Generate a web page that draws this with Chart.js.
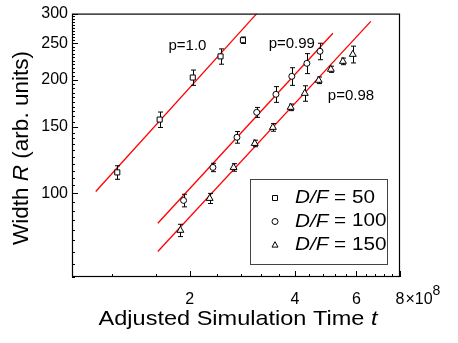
<!DOCTYPE html>
<html lang="en">
<head>
<meta charset="UTF-8">
<title>Width vs adjusted simulation time</title>
<style>
	body { margin: 0; background: white; }
	#wrap { width: 458px; height: 343px; }
</style>
<script src="https://cdn.jsdelivr.net/npm/chart.js"></script>
</head>
<body>
<div id="wrap"><canvas id="chart" width="458" height="343"></canvas></div>
<script>
	// time is in units of 1e8, width in arb. units
	const timeD50 = [1.24, 1.64, 2.04, 2.45, 2.84];
	const widthD50 = [113.7, 157, 203, 231, 255];
	const errD50 = [4.7, 7.4, 9.5, 10.8, 5];

	const timeD100 = [1.92, 2.33, 2.73, 3.11, 3.53, 3.92, 4.33, 4.72];
	const widthD100 = [95.8, 117.2, 140.9, 164.1, 183.2, 204.5, 221.4, 238.3];
	const errD100 = [3.7, 3, 5, 5, 8.8, 11, 13.5, 12];

	const timeD150 = [1.88, 2.28, 2.67, 3.07, 3.46, 3.89, 4.27, 4.68, 5.07, 5.49, 5.86];
	const widthD150 = [79.8, 97, 117.2, 135.7, 149.7, 169.2, 184.3, 199.6, 213.5, 224.1, 233.9];
	const errD150 = [3, 3, 2.7, 2.7, 3.5, 3.4, 8.7, 4, 4, 4.5, 12];

	// power law fits, start and end points
	const fitTime = [[1.076, 3.11], [1.62, 5.14], [1.62, 6.60]];
	const fitWidth = [[101.2, 300], [83.3, 266], [70.1, 286]];

	const fitLabels = ['p=1.0', 'p=0.99', 'p=0.98'];
	const fitLabelTime = [1.97, 3.92, 5.79];
	const fitLabelWidth = [247, 250, 181];

	const seriesNames = ['50', '100', '150'];

	const xTicks = [2, 4, 6, 8];
	const xMinor = [1.2, 1.6, 2.4, 2.8, 3.2, 3.6, 4.4, 4.8, 5.2, 5.6, 6.4, 6.8, 7.2, 7.6];
	const yTicks = [100, 150, 200, 250, 300];
	const yMinor = [];
	for (let v = 60; v < 300; v += 5) {
		if (v % 50 !== 0) yMinor.push(v);
	}

	const FONT = '"Liberation Sans", Arial, Helvetica, sans-serif';
	const errs = [errD50, errD100, errD150];
	const styles = ['rect', 'circle', 'triangle'];

	function pts(xs, ys) {
		return xs.map((x, i) => ({ x: x, y: ys[i] }));
	}

	function markerSet(xs, ys, style, r) {
		return {
			data: pts(xs, ys),
			showLine: false,
			pointStyle: style,
			pointRadius: r,
			pointBorderWidth: 1,
			borderColor: '#000',
			backgroundColor: '#fff',
			order: 1
		};
	}

	function fitSet(i) {
		return {
			data: pts(fitTime[i], fitWidth[i]),
			showLine: true,
			borderColor: '#ff0000',
			borderWidth: 1.3,
			pointRadius: 0,
			order: 2
		};
	}

	// text made of normal and italic pieces, optionally stretched sideways
	function drawParts(ctx, parts, x, y, size, sx, align, rot) {
		ctx.save();
		ctx.translate(x, y);
		if (rot) ctx.rotate(rot);
		ctx.scale(sx, 1);
		ctx.fillStyle = '#000';
		ctx.textBaseline = 'middle';
		ctx.textAlign = 'left';
		let w = 0;
		parts.forEach(p => {
			ctx.font = (p[1] ? 'italic ' : '') + size + 'px ' + FONT;
			w += ctx.measureText(p[0]).width;
		});
		let cx = align === 'center' ? -w / 2 : 0;
		parts.forEach(p => {
			ctx.font = (p[1] ? 'italic ' : '') + size + 'px ' + FONT;
			ctx.fillText(p[0], cx, 0);
			cx += ctx.measureText(p[0]).width;
		});
		ctx.restore();
	}

	function marker(ctx, style, x, y, r) {
		ctx.beginPath();
		if (style === 'rect') {
			ctx.rect(x - r, y - r, 2 * r, 2 * r);
		} else if (style === 'circle') {
			ctx.arc(x, y, r, 0, Math.PI * 2);
		} else {
			ctx.moveTo(x, y - r * 1.1);
			ctx.lineTo(x + r, y + r * 0.7);
			ctx.lineTo(x - r, y + r * 0.7);
			ctx.closePath();
		}
		ctx.stroke();
	}

	const decor = {
		id: 'decor',
		beforeDatasetDraw(chart, args) {
			const e = errs[args.index];
			if (!e) return;
			const ctx = chart.ctx;
			const xs = chart.scales.x, ys = chart.scales.y;
			ctx.save();
			ctx.strokeStyle = '#000';
			ctx.lineWidth = 1;
			ctx.beginPath();
			chart.data.datasets[args.index].data.forEach((p, i) => {
				const px = Math.round(xs.getPixelForValue(p.x)) + 0.5;
				const top = ys.getPixelForValue(p.y + e[i]);
				const bot = ys.getPixelForValue(p.y - e[i]);
				ctx.moveTo(px, top); ctx.lineTo(px, bot);
				ctx.moveTo(px - 2.5, top); ctx.lineTo(px + 2.5, top);
				ctx.moveTo(px - 2.5, bot); ctx.lineTo(px + 2.5, bot);
			});
			ctx.stroke();
			ctx.restore();
		},
		afterDraw(chart) {
			const ctx = chart.ctx;
			const a = chart.chartArea;
			const xs = chart.scales.x, ys = chart.scales.y;
			ctx.save();
			ctx.strokeStyle = '#000';
			ctx.lineWidth = 1.2;
			ctx.strokeRect(a.left + 0.5, a.top + 0.5, a.right - a.left - 1, a.bottom - a.top - 1);

			// inward ticks
			ctx.lineWidth = 1;
			ctx.beginPath();
			xTicks.forEach(v => {
				const p = Math.round(xs.getPixelForValue(v)) + 0.5;
				ctx.moveTo(p, a.bottom); ctx.lineTo(p, a.bottom - 6);
			});
			xMinor.forEach(v => {
				const p = Math.round(xs.getPixelForValue(v)) + 0.5;
				ctx.moveTo(p, a.bottom); ctx.lineTo(p, a.bottom - 3);
			});
			yTicks.forEach(v => {
				const p = Math.round(ys.getPixelForValue(v)) + 0.5;
				ctx.moveTo(a.left, p); ctx.lineTo(a.left + 6, p);
			});
			yMinor.forEach(v => {
				const p = Math.round(ys.getPixelForValue(v)) + 0.5;
				ctx.moveTo(a.left, p); ctx.lineTo(a.left + 3, p);
			});
			ctx.stroke();

			// exponent after the last tick label
			ctx.font = '16px ' + FONT;
			const x8 = xs.getPixelForValue(8) + ctx.measureText('8').width / 2 + 1;
			const ly = a.bottom + 13 + 9.6;
			ctx.fillStyle = '#000';
			ctx.textBaseline = 'middle';
			ctx.textAlign = 'left';
			ctx.fillText('\u00d710', x8, ly);
			const w10 = ctx.measureText('\u00d710').width;
			ctx.font = '14px ' + FONT;
			ctx.fillText('8', x8 + w10, ly - 8);

			// fit labels
			fitLabels.forEach((t, i) => {
				drawParts(ctx, [[t, false]], xs.getPixelForValue(fitLabelTime[i]), ys.getPixelForValue(fitLabelWidth[i]), 15, 1, 'center');
			});

			// axis titles
			drawParts(ctx, [['Adjusted Simulation Time ', false], ['t', true]], (a.left + a.right) / 2 + 2, 319, 21, 1.12, 'center');
			drawParts(ctx, [['Width ', false], ['R', true], [' (arb. units)', false]], 22, 148, 22.5, 1, 'center', -Math.PI / 2);

			// legend
			const bx = a.right - 150, by = a.bottom - 98;
			ctx.strokeStyle = '#444';
			ctx.lineWidth = 1;
			ctx.strokeRect(bx + 0.5, by + 0.5, 137, 85);
			ctx.strokeStyle = '#000';
			seriesNames.forEach((n, i) => {
				const ry = by + 19 + i * 23.5;
				marker(ctx, styles[i], bx + 25, ry, i === 0 ? 2.5 : 3);
				drawParts(ctx, [['D/F', true], [' = ' + n, false]], bx + 45, ry, 18, 1.15, 'left');
			});
			ctx.restore();
		}
	};

	Chart.defaults.color = '#000';
	Chart.defaults.font.family = FONT;
	Chart.defaults.font.size = 16;

	new Chart(document.getElementById('chart'), {
		type: 'scatter',
		data: {
			datasets: [
				markerSet(timeD50, widthD50, 'rect', 3.6),
				markerSet(timeD100, widthD100, 'circle', 3),
				markerSet(timeD150, widthD150, 'triangle', 4),
				fitSet(0),
				fitSet(1),
				fitSet(2)
			]
		},
		options: {
			responsive: false,
			animation: false,
			devicePixelRatio: 1,
			layout: { padding: { top: 13, right: 58, left: 0, bottom: 0 } },
			plugins: { legend: { display: false }, tooltip: { enabled: false } },
			scales: {
				x: {
					type: 'logarithmic',
					min: 0.92,
					max: 8,
					grid: { display: false, drawTicks: false },
					border: { display: false },
					afterBuildTicks: s => { s.ticks = xTicks.map(v => ({ value: v })); },
					afterFit: s => { s.height = 66; },
					ticks: { autoSkip: false, maxRotation: 0, padding: 13, callback: v => String(v) }
				},
				y: {
					type: 'logarithmic',
					min: 60,
					max: 300,
					grid: { display: false, drawTicks: false },
					border: { display: false },
					afterBuildTicks: s => { s.ticks = yTicks.map(v => ({ value: v })); },
					afterFit: s => { s.width = 72; },
					ticks: { autoSkip: false, padding: 4, callback: v => String(v) }
				}
			}
		},
		plugins: [decor]
	});
</script>
</body>
</html>
